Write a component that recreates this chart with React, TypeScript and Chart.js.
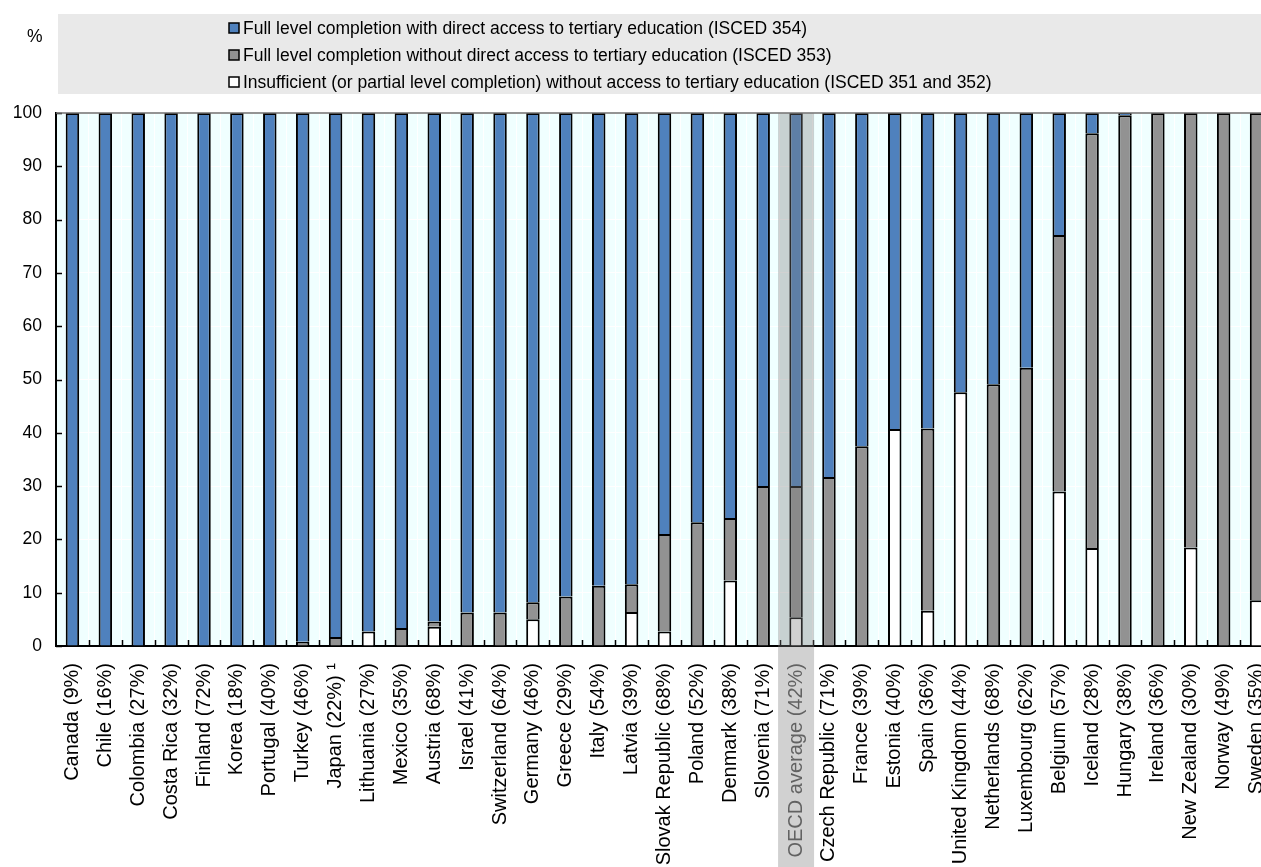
import React, { useEffect, useRef } from "react";
import { Chart, registerables } from "chart.js";

Chart.register(...registerables);

const FONT = "'Liberation Sans', Arial, Helvetica, sans-serif";

const categories = [
  "Canada (9%)", "Chile (16%)", "Colombia (27%)", "Costa Rica (32%)", "Finland (72%)",
  "Korea (18%)", "Portugal (40%)", "Turkey (46%)", "Japan (22%) \u00B9", "Lithuania (27%)",
  "Mexico (35%)", "Austria (68%)", "Israel (41%)", "Switzerland (64%)", "Germany (46%)",
  "Greece (29%)", "Italy (54%)", "Latvia (39%)", "Slovak Republic (68%)", "Poland (52%)",
  "Denmark (38%)", "Slovenia (71%)", "OECD average (42%)", "Czech Republic (71%)", "France (39%)",
  "Estonia (40%)", "Spain (36%)", "United Kingdom (44%)", "Netherlands (68%)", "Luxembourg (62%)",
  "Belgium (57%)", "Iceland (28%)", "Hungary (38%)", "Ireland (36%)", "New Zealand (30%)",
  "Norway (49%)", "Sweden (35%)",
];

// ISCED 351 and 352 (bottom segment, white)
const insufficient = [
  0, 0, 0, 0, 0, 0, 0, 0, 0, 2.7,
  0, 3.6, 0, 0, 5.0, 0, 0, 6.4, 2.7, 0,
  12.3, 0, 5.4, 0, 0, 40.7, 6.6, 47.6, 0, 0,
  29.0, 18.4, 0, 0, 18.5, 0, 8.6,
];

// ISCED 353 (middle segment, grey)
const withoutAccess = [
  0, 0, 0, 0, 0, 0, 0.2, 0.8, 1.7, 0,
  3.4, 1.0, 6.3, 6.3, 3.2, 9.3, 11.3, 5.2, 18.3, 23.2,
  11.7, 30.0, 24.6, 31.7, 37.5, 0, 34.2, 0, 49.1, 52.2,
  48.1, 77.8, 99.6, 100, 81.5, 100, 91.4,
];

// ISCED 354 (top segment, blue)
const directAccess = [
  100, 100, 100, 100, 100, 100, 99.8, 99.2, 98.3, 97.3,
  96.6, 95.4, 93.7, 93.7, 91.8, 90.7, 88.7, 88.4, 79.0, 76.8,
  76.0, 70.0, 70.0, 68.3, 62.5, 59.3, 59.2, 52.4, 50.9, 47.8,
  22.9, 3.8, 0.4, 0, 0, 0, 0,
];

const seriesLabels = [
  "Insufficient (or partial level completion) without access to tertiary education (ISCED 351 and 352)",
  "Full level completion without direct access to tertiary education (ISCED 353)",
  "Full level completion with direct access to tertiary education (ISCED 354)",
];

const yTickValues = [0, 10, 20, 30, 40, 50, 60, 70, 80, 90, 100];
const highlightCategory = "OECD average (42%)";

const COLORS = ["#FFFFFF", "#929292", "#4F81BD"];

const decorPlugin = {
  id: "decor",
  beforeDraw(chart: any) {
    const { ctx, chartArea } = chart;
    const { left, top, right, bottom } = chartArea;
    ctx.save();
    // legend box
    ctx.fillStyle = "#E9E9E9";
    ctx.fillRect(58, 14, chart.width - 58, 80);
    ctx.fillStyle = "#000";
    ctx.font = `17.5px ${FONT}`;
    ctx.textAlign = "left";
    ctx.textBaseline = "middle";
    ctx.fillText("%", 27, 37);
    const ds = chart.data.datasets;
    [2, 1, 0].forEach((di: number, row: number) => {
      const y = 28 + row * 27;
      ctx.fillStyle = ds[di].backgroundColor;
      ctx.fillRect(229, y - 5, 10, 10);
      ctx.strokeStyle = "#000";
      ctx.lineWidth = 1.5;
      ctx.strokeRect(229, y - 5, 10, 10);
      ctx.fillStyle = "#000";
      ctx.fillText(ds[di].label, 243, y + 1);
    });
    // plot background
    ctx.fillStyle = "#F0FFFF";
    ctx.fillRect(left, top, right - left, bottom - top);
    ctx.restore();
  },
  afterDatasetsDraw(chart: any) {
    const { ctx, chartArea, scales } = chart;
    const { left, top, right, bottom } = chartArea;
    ctx.save();
    ctx.strokeStyle = "#000";
    ctx.lineWidth = 1.5;
    ctx.beginPath();
    yTickValues.forEach((v) => {
      const y = Math.round(scales.y.getPixelForValue(v)) + 0.5;
      ctx.moveTo(left, y);
      ctx.lineTo(left + 6, y);
    });
    for (let i = 1; i < categories.length; i++) {
      const x = Math.round((scales.x.getPixelForValue(i - 1) + scales.x.getPixelForValue(i)) / 2) + 0.5;
      ctx.moveTo(x, bottom);
      ctx.lineTo(x, bottom - 6);
    }
    ctx.stroke();
    ctx.strokeStyle = "#707070";
    ctx.lineWidth = 1.5;
    ctx.beginPath();
    ctx.moveTo(left, top);
    ctx.lineTo(right, top);
    ctx.stroke();
    ctx.restore();
  },
  afterDraw(chart: any) {
    const { ctx, chartArea, scales } = chart;
    const idx = categories.indexOf(highlightCategory);
    const cx = scales.x.getPixelForValue(idx);
    ctx.save();
    ctx.fillStyle = "rgba(122,122,122,0.35)";
    ctx.fillRect(cx - 18, chartArea.top, 36, chart.height - chartArea.top);
    ctx.restore();
  },
};

export default function App() {
  const ref = useRef<HTMLCanvasElement | null>(null);
  useEffect(() => {
    if (!ref.current) return;
    const seriesData = [insufficient, withoutAccess, directAccess];
    const chart = new Chart(ref.current, {
      type: "bar",
      data: {
        labels: categories,
        datasets: seriesData.map((d, i) => ({
          label: seriesLabels[i],
          data: d,
          backgroundColor: COLORS[i],
          borderColor: "#000000",
          borderWidth: 2,
          barPercentage: 0.41,
          categoryPercentage: 1,
        })),
      },
      options: {
        responsive: false,
        animation: false,
        devicePixelRatio: 1,
        layout: { padding: { top: 113, left: 0, right: 0, bottom: 0 } },
        plugins: {
          legend: { display: false },
          tooltip: { enabled: false },
        },
        scales: {
          x: {
            stacked: true,
            offset: true,
            grid: { color: "#FFFFFF", lineWidth: 1, offset: true, drawTicks: false },
            border: { color: "#000000", width: 2 },
            ticks: {
              autoSkip: false,
              maxRotation: 90,
              minRotation: 90,
              padding: 17,
              font: { size: 20, family: FONT },
              color: (c: any) => (categories[c.index] === highlightCategory ? "#555555" : "#000000"),
            },
            afterFit: (s: any) => {
              s.height = 221;
              s.paddingLeft = 0;
              s.paddingRight = 0;
            },
          },
          y: {
            stacked: true,
            min: 0,
            max: 100,
            grid: { color: "#FFFFFF", lineWidth: 1, drawTicks: false },
            border: { color: "#000000", width: 2 },
            ticks: {
              stepSize: 10,
              padding: 14,
              font: { size: 17.5, family: FONT },
              color: "#000000",
            },
            afterFit: (s: any) => {
              s.width = 56;
              s.paddingTop = 0;
              s.paddingBottom = 0;
            },
          },
        },
      },
      plugins: [decorPlugin],
    });
    return () => chart.destroy();
  }, []);

  return (
    <div style={{ position: "absolute", left: 0, top: 0, width: 1261, height: 867, overflow: "hidden", background: "#fff" }}>
      <canvas ref={ref} width={1273} height={867} style={{ width: 1273, height: 867, display: "block" }} />
    </div>
  );
}
